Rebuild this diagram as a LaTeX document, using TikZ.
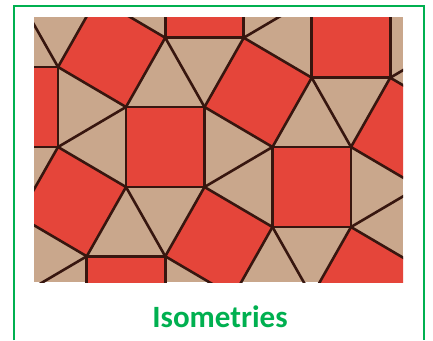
\documentclass[tikz,border=0pt]{standalone}
\usepackage{fontspec}
\setmainfont{Carlito}
\definecolor{framegreen}{RGB}{0,176,80}
\definecolor{tilered}{RGB}{229,69,58}
\definecolor{tiletan}{RGB}{201,167,140}
\definecolor{tileedge}{RGB}{55,22,15}
\tikzset{
  sqtile/.style={fill=tilered, draw=tileedge, line width=2.6pt, line join=round},
  triedge/.style={draw=tileedge, line width=2.6pt, line cap=round},
  frameline/.style={draw=framegreen, line width=2pt},
  titletext/.style={text=framegreen, font=\bfseries\fontsize{31}{31}\selectfont, anchor=base, inner sep=0pt}
}
\begin{document}
\begin{tikzpicture}[x=1pt,y=-1pt]
\useasboundingbox (0,0) rectangle (433,340);
\fill[white] (0,0) rectangle (433,340);
% frame (open at bottom)
\draw[frameline] (14,340) -- (14,6) -- (424,6) -- (424,340);
% tiling
\begin{scope}
\clip (34,17) rectangle (403,282);
\fill[tiletan] (34,17) rectangle (403,282);
\begin{scope}[shift={(126,107)}, x={(78.5pt,0pt)}, y={(0pt,-80pt)}]
\foreach \i in {-2,...,3}{
  \foreach \j in {-2,...,2}{
    \begin{scope}[shift={({1.8660254*\i+0.5*\j},{0.5*\i-1.8660254*\j})}]
      \path[sqtile] (0,0) -- (1,0) -- (1,1) -- (0,1) -- cycle;
      \path[sqtile] (0,0) -- (0.5,-0.8660254) -- (-0.3660254,-1.3660254) -- (-0.8660254,-0.5) -- cycle;
      \path[triedge] (1,0) -- (0.5,-0.8660254);
      \path[triedge] (1,1) -- (1.8660254,0.5);
    \end{scope}
  }
}
\end{scope}
\end{scope}
\node[titletext] (title) at (220,327) {Isometries};
\end{tikzpicture}
\end{document}
